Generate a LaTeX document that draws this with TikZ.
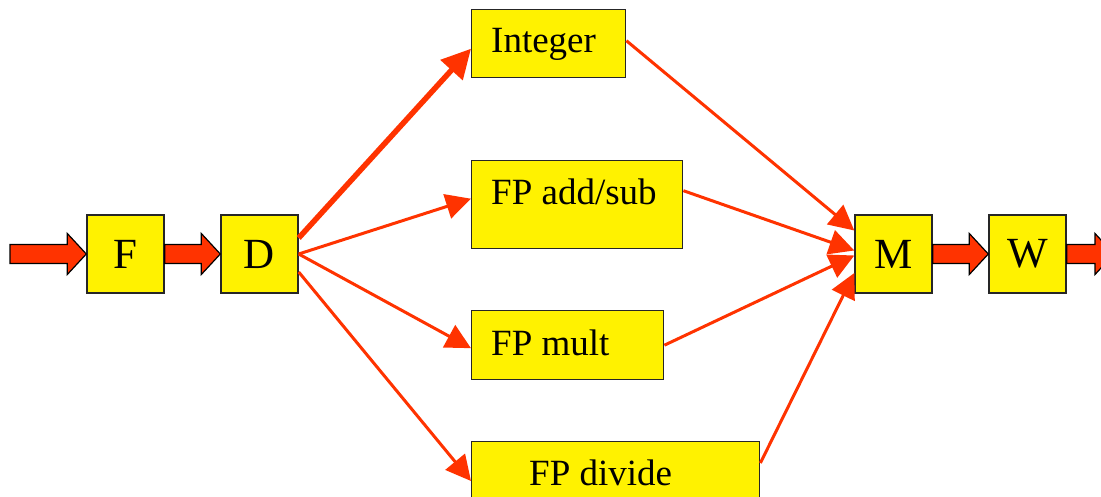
\documentclass[tikz,border=0pt]{standalone}
\usepackage{fontspec}
\setmainfont{Liberation Serif}
\usepackage{tikz}
\usetikzlibrary{arrows.meta}
\definecolor{stageyel}{RGB}{255,242,0}
\definecolor{pipered}{RGB}{255,51,0}
\newcommand{\fatarrow}[2]{%
  \draw[fatarr] ([yshift=9.5pt]#1) -- ([xshift=-19pt,yshift=9.5pt]#2)
    -- ([xshift=-19pt,yshift=20.5pt]#2) -- (#2)
    -- ([xshift=-19pt,yshift=-20.5pt]#2) -- ([xshift=-19pt,yshift=-9.5pt]#2)
    -- ([yshift=-9.5pt]#1) -- cycle;}

\begin{document}
\begin{tikzpicture}[x=1pt,y=-1pt,
    box/.style={draw=black!85,fill=stageyel,line width=1.4pt,inner sep=0pt},
    stage/.style={box,minimum width=77pt,minimum height=78pt,
      font=\fontsize{43}{45}\selectfont},
    lbl/.style={inner sep=0pt,font=\fontsize{37}{40}\selectfont},
    fatarr/.style={fill=pipered,draw=black,line width=1.2pt,line join=miter},
    issue/.style={pipered,line width=3pt,-{Triangle[length=25pt,width=25pt]}},
    thickissue/.style={pipered,line width=5.5pt,-{Triangle[length=29pt,width=29pt]}}]
    \clip (0,0) rectangle (1101,497);
    % pipeline stages
    \node[stage] (F) at (125.5,254) {F};
    \node[stage] (D) at (259.5,254) {D};
    \node[stage] (M) at (893.5,254) {M};
    \node[stage] (W) at (1027.5,254) {W};
    % functional units
    \node[box,anchor=north west,minimum width=154pt,minimum height=68pt] (int) at (471,9) {};
    \node[box,anchor=north west,minimum width=211pt,minimum height=88pt] (add) at (471,160) {};
    \node[box,anchor=north west,minimum width=192pt,minimum height=69pt] (mult) at (471,310) {};
    \node[box,anchor=north west,minimum width=288pt,minimum height=80pt] (div) at (471,441) {};
    \node[lbl,anchor=base west] (intlbl) at (491,53) {Integer};
    \node[lbl,anchor=base west] (addlbl) at (491,205) {FP add/sub};
    \node[lbl,anchor=base west] (multlbl) at (491,355) {FP mult};
    \node[lbl,anchor=base west] (divlbl) at (529,485) {FP divide};
    % big arrows along the pipe
    \coordinate (in) at (10,254);
    \coordinate (out) at (1114,254);
    \fatarrow{in}{F.west}
    \fatarrow{F.east}{D.west}
    \fatarrow{M.east}{W.west}
    \fatarrow{W.east}{out}
    % issue to the units
    \draw[thickissue] ([yshift=16pt]D.east) -- ([yshift=-5pt]int.west);
    \draw[issue] (D.east) -- ([yshift=6pt]add.west);
    \draw[issue] (D.east) -- ([yshift=-3pt]mult.west);
    \draw[issue] ([yshift=-18pt]D.east) -- ([yshift=-40pt]div.north west);
    % results to M
    \draw[issue] ([yshift=3pt]int.east) -- ([yshift=23.5pt]M.west);
    \draw[issue] ([yshift=14pt]add.east) -- ([yshift=3.5pt]M.west);
    \draw[issue] (mult.east) -- ([yshift=-1.5pt]M.west);
    \draw[issue] ([yshift=-22pt]div.north east) -- ([yshift=-19pt]M.west);
\end{tikzpicture}
\end{document}
